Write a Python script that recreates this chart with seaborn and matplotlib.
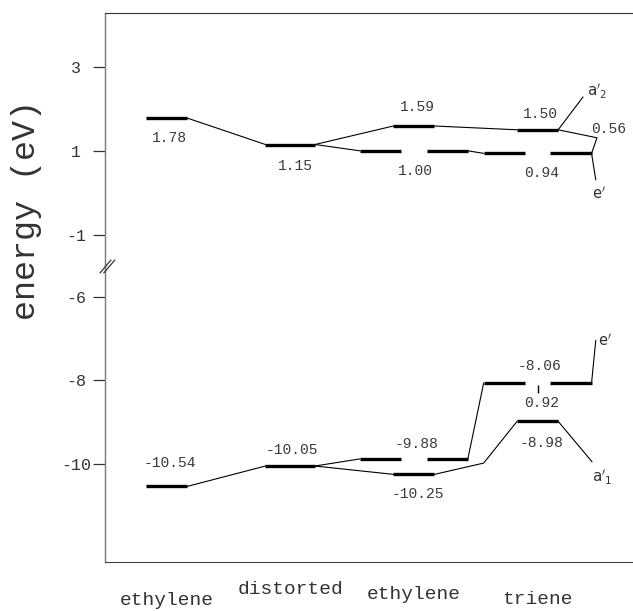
import matplotlib
matplotlib.use("Agg")
import matplotlib.pyplot as plt
import numpy as np
import pandas as pd
import seaborn as sns

# columns of the correlation diagram
col_names = ["ethylene", "distorted", "ethylene", "triene"]
col_x = [0, 1, 2, 3]

# orbital levels (column, energy in eV, degenerate pair?)
level_col = [0, 1, 2, 2, 3, 3, 0, 1, 2, 2, 3, 3]
level_e = [1.78, 1.15, 1.59, 1.00, 1.50, 0.94,
           -10.54, -10.05, -9.88, -10.25, -8.06, -8.98]
level_pair = [False, False, False, True, False, True,
              False, False, True, False, True, False]

# correlation lines between level ends (from level, to level)
links = [(0, 1), (1, 2), (1, 3), (3, 5), (2, 4),
         (6, 7), (7, 8), (7, 9), (8, 10), (9, 11)]
kink_e = -9.98          # bend of the -10.25 -> -8.98 line

# leader lines to symmetry labels
a2_end = (3.367, 2.28)
e_up_bend = (3.48, 1.31)
e_up_end = (3.47, 0.31)
e_low_end = (3.47, -7.04)
a1_end = (3.44, -9.95)

upper_lim = (-1.713, 4.275)
lower_lim = (-12.35, -5.234)
upper_ticks = [3, 1, -1]
lower_ticks = [-6, -8, -10]

sns.set_style("white")
plt.rcParams["font.family"] = ["Liberation Mono", "DejaVu Sans Mono"]
plt.rcParams["axes.unicode_minus"] = False
plt.rcParams["mathtext.fontset"] = "dejavusans"

W, H = 633, 611
fig = plt.figure(figsize=(W / 100, H / 100), dpi=100)
ax_top = fig.add_axes([105 / W, 1 - 265 / H, 1 - 105 / W, (265 - 13) / H])
ax_bot = fig.add_axes([105 / W, 1 - 562 / H, 1 - 105 / W, (562 - 265) / H])

half = 0.166
pair_off = 0.27
wide_half = 0.2


def ends(i):
    c = col_x[level_col[i]]
    if level_pair[i]:
        return c - pair_off - half, c + pair_off + half
    if level_col[i] == 1:
        return c - wide_half, c + wide_half
    return c - half, c + half


def panel(i):
    return "top" if level_e[i] > -3 else "bot"


axes = {"top": ax_top, "bot": ax_bot}

# levels
for i, e in enumerate(level_e):
    ax = axes[panel(i)]
    c = col_x[level_col[i]]
    if level_pair[i]:
        ax.hlines([e, e], [c - pair_off - half, c + pair_off - half],
                  [c - pair_off + half, c + pair_off + half], color="black", lw=2.4)
    else:
        x0, x1 = ends(i)
        ax.hlines(e, x0, x1, color="black", lw=2.4)

# correlation lines
rows = []
seg = 0
for a, b in links:
    pts = [(ends(a)[1], level_e[a])]
    if (a, b) == (9, 11):
        pts.append((ends(10)[0], kink_e))
    pts.append((ends(b)[0], level_e[b]))
    for x, e in pts:
        rows.append({"x": x, "e": e, "seg": seg, "panel": panel(a)})
    seg += 1
leaders = [
    (4, [a2_end]),
    (4, [e_up_bend, (ends(5)[1], level_e[5]), e_up_end]),
    (10, [e_low_end]),
    (11, [a1_end]),
]
for start, path in leaders:
    pts = [(ends(start)[1], level_e[start])] + path
    for x, e in pts:
        rows.append({"x": x, "e": e, "seg": seg, "panel": panel(start)})
    seg += 1
lines = pd.DataFrame(rows)
for key, ax in axes.items():
    sub = lines[lines["panel"] == key]
    sns.lineplot(data=sub, x="x", y="e", units="seg", estimator=None, sort=False,
                 color="black", lw=0.8, ax=ax, legend=False)

# gap marker between -8.06 and -8.98
ax_bot.vlines(col_x[3], level_e[10] - 0.05, level_e[10] - 0.25, color="black", lw=1)

# level value labels (offset in pixels)
lab_off = [(3, -20), (5, -21), (4, 19), (2, -20), (3, 16), (4, -20),
           (3, 23), (2, 16), (3, 15), (4, -20), (2, 17), (4, -22)]
txt = dict(fontsize=10.5, color="#3a3a3a", ha="center", va="center")
for i, e in enumerate(level_e):
    ax = axes[panel(i)]
    ax.annotate(f"{e:.2f}", (col_x[level_col[i]], e), xytext=lab_off[i],
                textcoords="offset pixels", **txt)

ax_top.annotate(f"{level_e[4] - level_e[5]:.2f}", (ends(4)[1], level_e[4]),
                xytext=(50, 1), textcoords="offset pixels", **txt)
ax_bot.annotate(f"{level_e[10] - level_e[11]:.2f}", (col_x[3], level_e[10]),
                xytext=(4, -20), textcoords="offset pixels", **txt)

sym = dict(fontsize=11, color="#333333", va="center", ha="left")
ax_top.annotate(r"$\mathtt{a}'_{\mathtt{2}}$", a2_end, xytext=(4, 6),
                textcoords="offset pixels", **sym)
ax_top.annotate(r"$\mathtt{e}'$", e_up_end, xytext=(-4, -14),
                textcoords="offset pixels", **sym)
ax_bot.annotate(r"$\mathtt{e}'$", e_low_end, xytext=(2, 0),
                textcoords="offset pixels", **sym)
ax_bot.annotate(r"$\mathtt{a}'_{\mathtt{1}}$", a1_end, xytext=(0, -16),
                textcoords="offset pixels", **sym)

# column names under the axis
name_off = [-30, -19, -24, -29]
for c, name, dy in zip(col_x, col_names, name_off):
    ax_bot.annotate(name, (c, 0), xycoords=("data", "axes fraction"),
                    xytext=(0, dy), textcoords="offset pixels", ha="center",
                    va="top", fontsize=14, color="#333333",
                    annotation_clip=False)

# axes styling
for ax, lim, ticks in [(ax_top, upper_lim, upper_ticks), (ax_bot, lower_lim, lower_ticks)]:
    ax.set_xlim(-0.497, 3.771)
    ax.set_ylim(*lim)
    ax.set_yticks(ticks)
    ax.set_yticklabels([str(t) for t in ticks])
    ax.set_xticks([])
    ax.set_xlabel("")
    ax.set_ylabel("")
    ax.tick_params(axis="y", direction="out", length=9, width=0.9, pad=12,
                   labelsize=12, colors="#333333", left=True)
    for lab in ax.get_yticklabels():
        lab.set_horizontalalignment("center")
    ax.spines["right"].set_visible(False)
    ax.spines["left"].set_color("#777777")
    ax.spines["left"].set_linewidth(1.0)
    ax.patch.set_alpha(0)
ax_top.spines["bottom"].set_visible(False)
ax_bot.spines["top"].set_visible(False)
ax_top.spines["top"].set_color("#333333")
ax_bot.spines["bottom"].set_color("#444444")

# break marks on the energy axis
for dx in (0.0, 0.006):
    fig.add_artist(plt.Line2D([100 / W + dx, 111 / W + dx], [1 - 273 / H, 1 - 260 / H],
                              color="#333333", lw=0.9))

fig.text(27 / W, 1 - 210 / H, "energy (eV)", rotation=90, ha="center", va="center",
         fontsize=24, color="#333333")

fig.savefig("out.png", dpi=100)
